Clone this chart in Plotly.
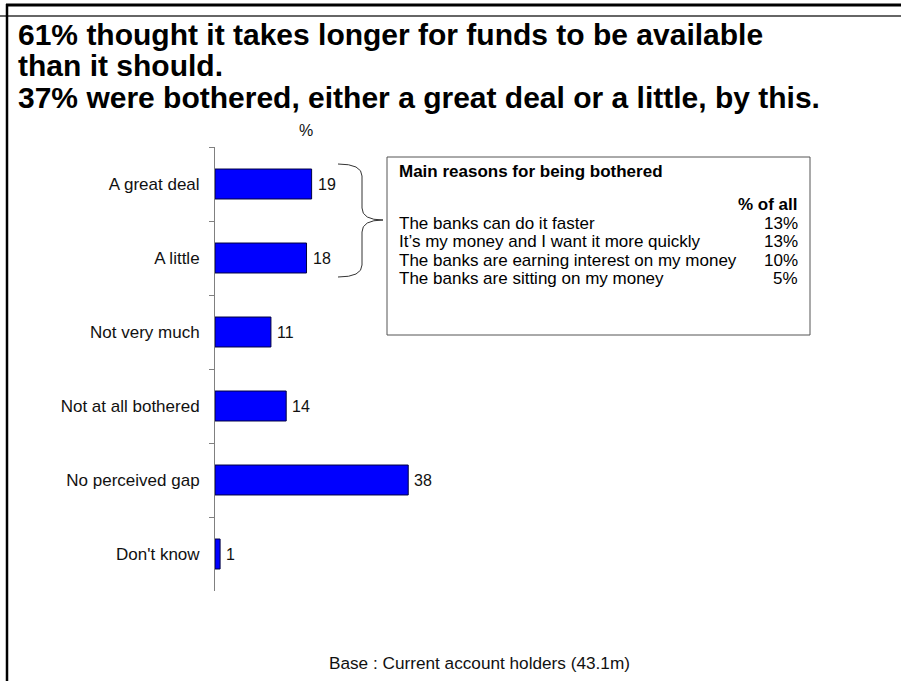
import plotly.graph_objects as go

# Survey responses: how bothered people are by the funds-clearing gap
categories = ["A great deal", "A little", "Not very much", "Not at all bothered",
              "No perceived gap", "Don't know"]
values = [19, 18, 11, 14, 38, 1]

# Reasons panel
reason_labels = ["The banks can do it faster",
                 "It\u2019s my money and I want it more quickly",
                 "The banks are earning interest on my money",
                 "The banks are sitting on my money"]
reason_values = [13, 13, 10, 5]

title_lines = ["61% thought it takes longer for funds to be available",
               "than it should.",
               "37% were bothered, either a great deal or a little, by this."]

FONT = "Liberation Sans, Arial, sans-serif"
W, H = 901, 681
PL, PT, PW, PH = 215, 147, 600, 444  # plot area in pixels


def px(x):
    return (x - PL) / PW


def py(y):
    return (PT + PH - y) / PH


fig = go.Figure()
fig.add_trace(go.Bar(
    x=values, y=categories, orientation="h",
    marker=dict(color="#0000FF", line=dict(color="#000040", width=1)),
    width=0.405, hoverinfo="skip",
))

annotations = []
# value labels next to each bar
for c, v in zip(categories, values):
    annotations.append(dict(x=v, y=c, xref="x", yref="y", text=str(v),
                            xanchor="left", yanchor="middle", xshift=4,
                            showarrow=False, font=dict(size=16, color="#111", family=FONT)))

# title block
title_y = [34, 66, 98]
for t, yy in zip(title_lines, title_y):
    annotations.append(dict(x=px(16), y=py(yy), xref="paper", yref="paper", text="<b>%s</b>" % t,
                            xanchor="left", yanchor="middle", showarrow=False,
                            font=dict(size=30, color="black", family=FONT)))

# unit label above axis
annotations.append(dict(x=px(306), y=py(131), xref="paper", yref="paper", text="%",
                        xanchor="center", yanchor="middle", showarrow=False,
                        font=dict(size=16, color="#111", family=FONT)))

# reasons box text
BOX_FS = 17
annotations.append(dict(x=px(397), y=py(171), xref="paper", yref="paper",
                        text="<b>Main reasons for being bothered</b>",
                        xanchor="left", yanchor="middle", showarrow=False,
                        font=dict(size=BOX_FS, color="black", family=FONT)))
annotations.append(dict(x=px(800), y=py(204), xref="paper", yref="paper",
                        text="<b>% of all</b>",
                        xanchor="right", yanchor="middle", showarrow=False,
                        font=dict(size=BOX_FS, color="black", family=FONT)))
for i, (lab, val) in enumerate(zip(reason_labels, reason_values)):
    yy = 223 + 18.5 * i
    annotations.append(dict(x=px(397), y=py(yy), xref="paper", yref="paper", text=lab,
                            xanchor="left", yanchor="middle", showarrow=False,
                            font=dict(size=BOX_FS, color="black", family=FONT)))
    annotations.append(dict(x=px(800), y=py(yy), xref="paper", yref="paper", text="%d%%" % val,
                            xanchor="right", yanchor="middle", showarrow=False,
                            font=dict(size=BOX_FS, color="black", family=FONT)))

# base note
annotations.append(dict(x=px(479), y=py(663), xref="paper", yref="paper",
                        text="Base : Current account holders (43.1m)",
                        xanchor="center", yanchor="middle", showarrow=False,
                        font=dict(size=17.2, color="#111", family=FONT)))


def brace_path():
    pts = [(338, 164), (362, 164), (362, 176), (362, 208), (362, 220), (383, 220),
           (362, 220), (362, 232), (362, 265), (362, 277), (338, 277)]
    p = [(px(x), py(y)) for x, y in pts]
    return ("M {0[0]},{0[1]} Q {1[0]},{1[1]} {2[0]},{2[1]} L {3[0]},{3[1]} "
            "Q {4[0]},{4[1]} {5[0]},{5[1]} Q {6[0]},{6[1]} {7[0]},{7[1]} "
            "L {8[0]},{8[1]} Q {9[0]},{9[1]} {10[0]},{10[1]}").format(*p)


shapes = [
    # page frame
    dict(type="line", xref="paper", yref="paper", x0=px(6), x1=px(901), y0=py(5), y1=py(5),
         line=dict(color="black", width=3)),
    dict(type="line", xref="paper", yref="paper", x0=px(0), x1=px(901), y0=py(16), y1=py(16),
         line=dict(color="#333", width=1.5)),
    dict(type="line", xref="paper", yref="paper", x0=px(7), x1=px(7), y0=py(4), y1=py(681),
         line=dict(color="black", width=2.5)),
    # reasons box
    dict(type="rect", xref="paper", yref="paper", x0=px(387), x1=px(810), y0=py(335), y1=py(157),
         line=dict(color="#555", width=1), fillcolor="white"),
    # brace grouping the two bothered bars
    dict(type="path", xref="paper", yref="paper", path=brace_path(),
         line=dict(color="#333", width=1)),
]

fig.update_layout(
    width=W, height=H,
    margin=dict(l=PL, r=W - PL - PW, t=PT, b=H - PT - PH, pad=0),
    paper_bgcolor="white", plot_bgcolor="white",
    showlegend=False,
    xaxis=dict(range=[0, 118], visible=False, fixedrange=True),
    yaxis=dict(categoryorder="array", categoryarray=categories, autorange="reversed",
               showline=True, linecolor="#808080", linewidth=1,
               ticks="outside", ticklen=5, tickcolor="#808080", tickson="boundaries",
               ticklabelstandoff=11,
               tickfont=dict(size=17, color="#111", family=FONT),
               showgrid=False, zeroline=False, fixedrange=True),
    annotations=annotations,
    shapes=shapes,
    bargap=0.595,
)

fig.write_html("out.html")
